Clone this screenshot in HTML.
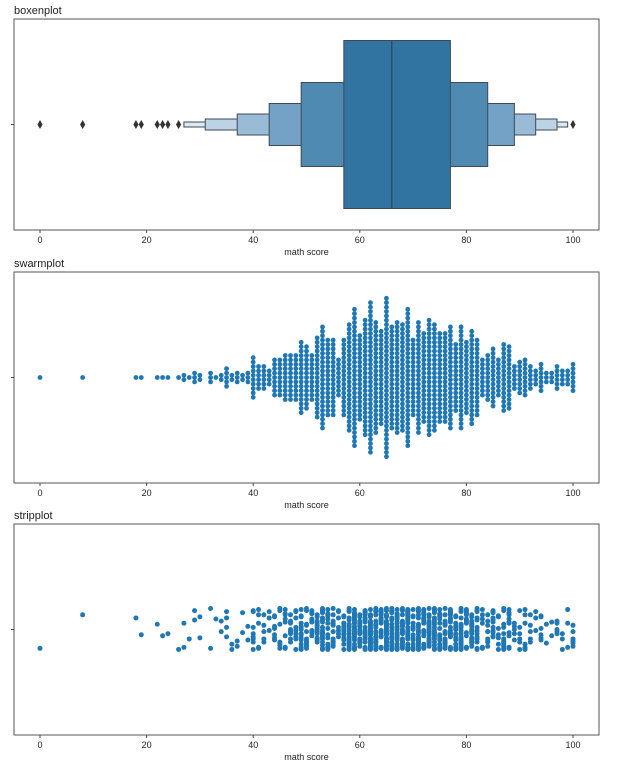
<!DOCTYPE html>
<html><head><meta charset="utf-8">
<style>
body{margin:0;background:#fff;font-family:"Liberation Sans",sans-serif;}
svg text{font-family:"Liberation Sans",sans-serif;fill:#222;}
</style></head>
<body>
<svg id="chart" width="632" height="768"></svg>
<script>
const scores = [0,8,18,19,22,23,24,26,27,28,29,30,32,33,34,35,36,37,38,39,40,41,42,43,44,45,46,47,48,49,50,51,52,53,54,55,56,57,58,59,60,61,62,63,64,65,66,67,68,69,70,71,72,73,74,75,76,77,78,79,80,81,82,83,84,85,86,87,88,89,90,91,92,93,94,95,96,97,98,99,100];
const counts = [1,1,1,1,1,1,1,1,2,1,3,2,3,1,2,5,2,3,2,3,10,6,6,4,9,9,11,11,11,17,15,11,19,24,18,18,9,18,25,32,20,27,35,26,22,37,24,26,25,32,18,26,21,27,25,21,21,24,16,24,17,22,18,9,11,14,9,16,15,6,8,9,6,4,7,3,3,6,4,4,7];
const boxLo = [57,49,43,37,31,27];
const boxHi = [77,84,89,93,97,99];
const boxHalf = [84,42,21,10.5,5.5,2.5];
const boxColors = ['#3274a1','#4f8ab3','#74a2c7','#9abbd6','#bcd3e5','#dde8f1'];
const median = 66;
const outliers = [0,8,18,19,22,23,24,26,100];
const ticks = [0,20,40,60,80,100];
const jitter = [0.9,-0.4,0.2,-0.95,0.6,-0.1,0.85,-0.7,0.35,-0.3,0.1,-0.85,0.7,0.45,-0.55,0.95,-0.2,0.05,-0.65,0.55,-0.9,0.25,0.8,-0.45,-0.05,0.65,-0.8,0.4,-0.25,0.15,-0.6,0.75,-0.35,0.5,-1,0.3,-0.15,0.9,-0.75,0.0,0.6,-0.5,0.2,-0.9,0.85,-0.3,0.45,-0.7,0.1,0.95];

const NS='http://www.w3.org/2000/svg';
const svg=document.getElementById('chart');
const X0=40,X1=573,L=14,R=599;
const xs=v=>X0+(X1-X0)*v/100;
function el(tag,attrs,parent){const e=document.createElementNS(NS,tag);for(const k in attrs)e.setAttribute(k,attrs[k]);(parent||svg).appendChild(e);return e;}

const panels=[{t:19,b:230,title:'boxenplot',name:'boxenplot'},{t:272,b:483,title:'swarmplot',name:'swarmplot'},{t:524,b:735,title:'stripplot',name:'stripplot'}];
panels.forEach(p=>{
  const g=el('g',{});
  
  
  p.g=g; p.c=(p.t+p.b)/2;
  const tt=el('text',{x:L,y:p.t-5,'font-size':11},g);tt.textContent=p.title;
  
  
  ticks.forEach(v=>{
    el('line',{x1:xs(v),x2:xs(v),y1:p.b,y2:p.b+3,stroke:'#444'},g);
    const t=el('text',{x:xs(v),y:p.b+13,'font-size':9,'text-anchor':'middle'},g);t.textContent=v;
    
    
  });
  el('line',{x1:L-3,x2:L,y1:p.c,y2:p.c,stroke:'#444'},g);
  const xl=el('text',{x:(L+R)/2,y:p.b+25,'font-size':9,'text-anchor':'middle'},g);xl.textContent='math score';
  
  
});

// boxen
const p0=panels[0];
for(let i=boxLo.length-1;i>=0;i--){
  const r=el('rect',{x:xs(boxLo[i]),y:p0.c-boxHalf[i],width:xs(boxHi[i])-xs(boxLo[i]),height:2*boxHalf[i],fill:boxColors[i],stroke:'#3d4a55','stroke-width':1},p0.g);
  
  
}
el('line',{x1:xs(median),x2:xs(median),y1:p0.c-boxHalf[0],y2:p0.c+boxHalf[0],stroke:'#2e4556','stroke-width':1.2},p0.g);
outliers.forEach(v=>{
  const d=el('path',{d:`M${xs(v)},${p0.c-4.5}L${xs(v)+2.6},${p0.c}L${xs(v)},${p0.c+4.5}L${xs(v)-2.6},${p0.c}Z`,fill:'#333'},p0.g);
  
  
});

// swarm
const p1=panels[1];
scores.forEach((s,i)=>{
  const n=counts[i];
  for(let k=0;k<n;k++){
    const off=(k-(n-1)/2)*4.4;
    const c=el('circle',{cx:xs(s),cy:p1.c+off,r:2.4,fill:'#1f77b4'},p1.g);
    
    
  }
});

// strip
const p2=panels[2];
scores.forEach((s,i)=>{
  const n=Math.max(1,Math.round(counts[i]*0.8));
  for(let k=0;k<n;k++){
    const j=jitter[(i*7+k*3)%jitter.length];
    const c=el('circle',{cx:xs(s),cy:p2.c+j*21,r:2.5,fill:'#1f77b4'},p2.g);
    
    
  }
});

panels.forEach(p=>{
  el('rect',{x:L,y:p.t,width:R-L,height:p.b-p.t,fill:'none',stroke:'#555','stroke-width':1},p.g);
});
</script>
</body></html>
